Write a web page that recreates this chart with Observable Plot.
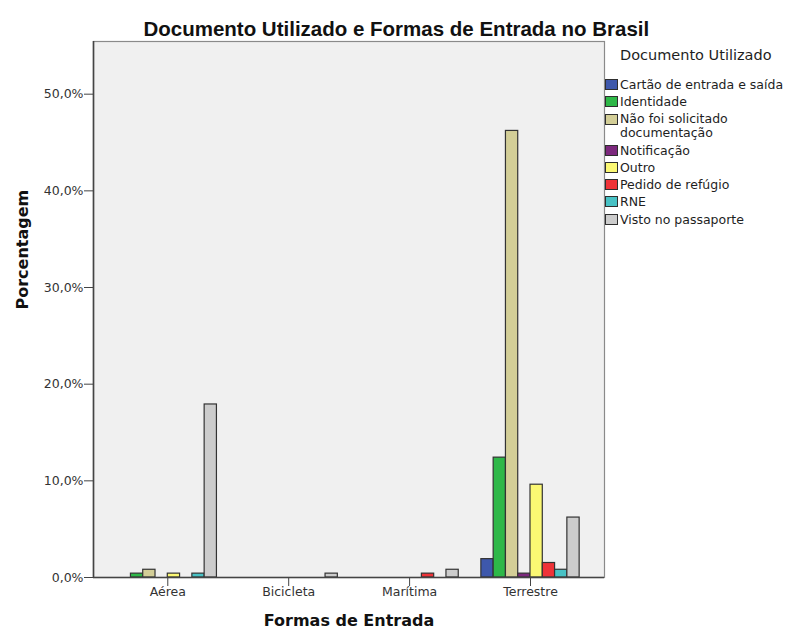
<!DOCTYPE html>
<html><head><meta charset="utf-8">
<script src="https://cdn.jsdelivr.net/npm/d3@7"></script>
<script src="https://cdn.jsdelivr.net/npm/@observablehq/plot@0.6"></script>
<style>
body{margin:0;background:#fff;}
#wrap{position:relative;width:786px;height:634px;overflow:hidden;}
#legend{position:absolute;left:605px;top:46px;font-family:"DejaVu Sans",sans-serif;color:#1e1e1e;}
#legend .ttl{font-size:14.5px;margin-left:15px;height:30px;line-height:18px;white-space:nowrap;}
#legend .row{display:flex;align-items:flex-start;height:17.3px;font-size:12.5px;line-height:17.3px;white-space:nowrap;}
#legend .row.wrap{height:31px;line-height:14.5px;padding-top:1px;box-sizing:border-box;}
#legend .sw{width:13px;height:11px;border:1px solid #2e2e2e;box-sizing:border-box;margin-top:3px;margin-right:2px;flex:none;}
#legend .row.wrap .sw{margin-top:2px;}
</style></head><body><div id="wrap"><div id="chart"></div><div id="legend"></div></div>
<script>
const categories = ["Aérea", "Bicicleta", "Marítima", "Terrestre"];
const series = ["Cartão de entrada e saída", "Identidade", "Não foi solicitado documentação", "Notificação", "Outro", "Pedido de refúgio", "RNE", "Visto no passaporte"];
const colors = ["#3e58ac", "#2eb848", "#d3ce97", "#7c287d", "#fbf873", "#ef3338", "#48c2c5", "#cccccc"];
const yTicks = [0, 10, 20, 30, 40, 50];

// values (%) per series, in the order of categories
const cartao      = [0,    0,   0,   1.9];
const identidade  = [0.4,  0,   0,   12.4];
const naoFoi      = [0.8,  0,   0,   46.2];
const notificacao = [0,    0,   0,   0.4];
const outro       = [0.4,  0,   0,   9.6];
const pedido      = [0,    0,   0.4, 1.5];
const rne         = [0.4,  0,   0,   0.8];
const visto       = [17.9, 0.4, 0.8, 6.2];

const valuesBySeries = [cartao, identidade, naoFoi, notificacao, outro, pedido, rne, visto];
const data = [];
series.forEach((s, si) => categories.forEach((c, ci) => {
  const v = valuesBySeries[si][ci];
  if (v > 0) data.push({category: c, ci, series: s, si, value: v});
}));

const slot = 0.1016;
const groupStart = -4 * slot;
const xMin = -0.6145, xMax = 3.612;

const chart = Plot.plot({
  width: 786, height: 634,
  marginTop: 41, marginBottom: 57, marginLeft: 93, marginRight: 182,
  style: {fontFamily: "DejaVu Sans, sans-serif", fontSize: "12.5px", color: "#333", background: "#fff", overflow: "visible"},
  x: {domain: [xMin, xMax], axis: null},
  y: {domain: [0, 55.45], axis: null},
  color: {domain: series, range: colors},
  marks: [
    Plot.frame({fill: "#f0f0f0", stroke: "#8a8a8a", strokeWidth: 1.2}),
    Plot.rectY(data, {
      x1: d => d.ci + groupStart + d.si * slot,
      x2: d => d.ci + groupStart + (d.si + 1) * slot,
      y1: 0, y2: "value",
      fill: "series", stroke: "#333", strokeWidth: 1.2
    }),
    Plot.ruleX([xMin], {stroke: "#444", strokeWidth: 1.6}),
    Plot.ruleY([0], {stroke: "#444", strokeWidth: 1.6}),
    Plot.axisY({ticks: yTicks, tickFormat: d => d.toFixed(1).replace(".", ",") + "%", tickSize: 9, tickPadding: 1, label: null, stroke: "#444", fill: "#333", fontSize: 12.5}),
    Plot.axisX({ticks: [0, 1, 2, 3], tickFormat: i => categories[i], tickSize: 9, tickPadding: 1, label: null, stroke: "#444", fill: "#333", fontSize: 12.5}),
    Plot.text(["Porcentagem"], {text: d => d, frameAnchor: "left", dx: -71, rotate: -90, fontWeight: "bold", fontSize: 16, fill: "#111", fontFamily: "DejaVu Sans"}),
    Plot.text(["Formas de Entrada"], {text: d => d, frameAnchor: "bottom", dy: 48, fontWeight: "bold", fontSize: 16, fill: "#111", fontFamily: "DejaVu Sans"}),
    Plot.text(["Documento Utilizado e Formas de Entrada no Brasil"], {text: d => d, frameAnchor: "top", dy: -20, dx: 47.3, fontWeight: "bold", fontSize: 20.5, fill: "#111", fontFamily: "Liberation Sans"})
  ]
});
document.getElementById("chart").appendChild(chart);

const legend = document.getElementById("legend");
const t = document.createElement("div");
t.className = "ttl";
t.textContent = "Documento Utilizado";
legend.appendChild(t);
series.forEach((s, i) => {
  const row = document.createElement("div");
  const isWrap = s.startsWith("Não foi");
  row.className = "row" + (isWrap ? " wrap" : "");
  const sw = document.createElement("div");
  sw.className = "sw";
  sw.style.background = colors[i];
  const tx = document.createElement("div");
  if (isWrap) { tx.innerHTML = "Não foi solicitado<br>documentação"; } else { tx.textContent = s; }
  row.appendChild(sw); row.appendChild(tx);
  legend.appendChild(row);
});
</script></body></html>
